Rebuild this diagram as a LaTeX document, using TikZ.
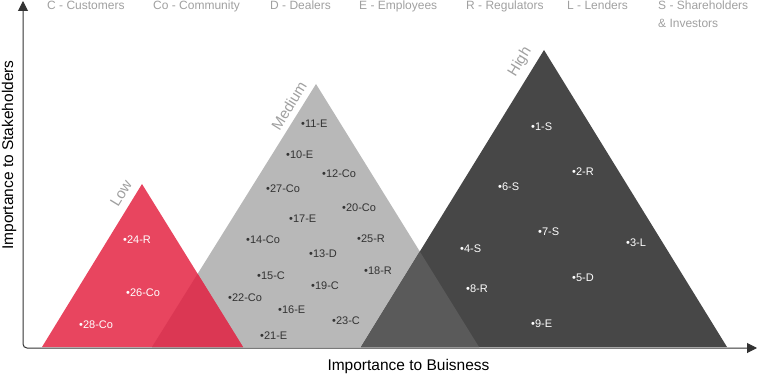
\documentclass[tikz,border=0pt]{standalone}
\usepackage{fontspec}
\setmainfont{Liberation Sans}
\usetikzlibrary{arrows.meta}

\definecolor{lowred}{HTML}{E8455F}
\definecolor{lowover}{HTML}{DB3753}
\definecolor{medgray}{HTML}{B8B8B8}
\definecolor{highdark}{HTML}{474747}
\definecolor{highover}{HTML}{5A5A5A}
\definecolor{legendgray}{HTML}{A0A0A0}
\definecolor{axisgray}{HTML}{333333}

\begin{document}
\begin{tikzpicture}[x=1pt, y=-1pt,
  item/.style={font=\fontsize{11}{13}\selectfont, anchor=west, inner sep=0pt},
  level/.style={font=\fontsize{15}{17}\selectfont, text=legendgray, rotate=58.5, inner sep=0pt},
  legend/.style={font=\fontsize{12}{18.5}\selectfont, text=legendgray, anchor=base west, inner sep=0pt, align=left},
  axislabel/.style={font=\fontsize{15.5}{18}\selectfont, text=black, inner sep=0pt}]

  \useasboundingbox (0,0) rectangle (758,374);

  % 三个三角形：Low（红）、Medium（灰）、High（深灰）
  \coordinate (L1) at (42,347);  \coordinate (L2) at (243,347); \coordinate (L3) at (142,184);
  \coordinate (M1) at (152,347); \coordinate (M2) at (479,347); \coordinate (M3) at (316,84);
  \coordinate (H1) at (361,347); \coordinate (H2) at (727,347); \coordinate (H3) at (544,50);

  \fill[medgray]  (M1) -- (M2) -- (M3) -- cycle;
  \fill[lowred]   (L1) -- (L2) -- (L3) -- cycle;
  \fill[highdark] (H1) -- (H2) -- (H3) -- cycle;

  % 重叠部分
  \begin{scope}
    \clip (M1) -- (M2) -- (M3) -- cycle;
    \fill[lowover]  (L1) -- (L2) -- (L3) -- cycle;
    \fill[highover] (H1) -- (H2) -- (H3) -- cycle;
  \end{scope}

  % 坐标轴
  \coordinate (O)    at (23,348);
  \coordinate (Ytop) at (23,1);
  \coordinate (Xend) at (757,348);
  \draw[axisgray, line width=1pt, rounded corners=4pt,
        {Triangle[length=10pt,width=10pt]}-{Triangle[length=10pt,width=10pt]}]
    (Ytop) -- (O) -- (Xend);

  \node[axislabel, rotate=90] (ylab) at (9,155) {Importance to Stakeholders};
  \node[axislabel, anchor=base] (xlab) at (408.5,370) {Importance to Buisness};

  % 图例
  \node[legend] (legC)  at (47,9.5)  {C - Customers};
  \node[legend] (legCo) at (153,9.5) {Co - Community};
  \node[legend] (legD)  at (270,9.5) {D - Dealers};
  \node[legend] (legE)  at (359,9.5) {E - Employees};
  \node[legend] (legR)  at (466,9.5) {R - Regulators};
  \node[legend] (legL)  at (567,9.5) {L - Lenders};
  \node[legend] (legS)  at (658,28)  {S - Shareholders\\\& Investors};

  % 等级标签
  \node[level] (low)  at (121,193) {Low};
  \node[level] (med)  at (289,106) {Medium};
  \node[level] (high) at (520,62)  {High};

  % Low
  \node[item, text=white] (s24) at (123,240) {•24-R};
  \node[item, text=white] (s26) at (126,293) {•26-Co};
  \node[item, text=white] (s28) at (79,325)  {•28-Co};

  % Medium
  \node[item, text=axisgray] (s11) at (301,124) {•11-E};
  \node[item, text=axisgray] (s10) at (286,155) {•10-E};
  \node[item, text=axisgray] (s12) at (322,174) {•12-Co};
  \node[item, text=axisgray] (s27) at (266,189) {•27-Co};
  \node[item, text=axisgray] (s20) at (342,208) {•20-Co};
  \node[item, text=axisgray] (s17) at (289,219) {•17-E};
  \node[item, text=axisgray] (s14) at (246,240) {•14-Co};
  \node[item, text=axisgray] (s25) at (357,239) {•25-R};
  \node[item, text=axisgray] (s13) at (309,254) {•13-D};
  \node[item, text=axisgray] (s15) at (257,276) {•15-C};
  \node[item, text=axisgray] (s18) at (364,271) {•18-R};
  \node[item, text=axisgray] (s19) at (311,286) {•19-C};
  \node[item, text=axisgray] (s22) at (228,298) {•22-Co};
  \node[item, text=axisgray] (s16) at (278,310) {•16-E};
  \node[item, text=axisgray] (s23) at (332,321) {•23-C};
  \node[item, text=axisgray] (s21) at (260,336) {•21-E};

  % High
  \node[item, text=white] (s1) at (531,127) {•1-S};
  \node[item, text=white] (s2) at (572,172) {•2-R};
  \node[item, text=white] (s6) at (498,187) {•6-S};
  \node[item, text=white] (s7) at (538,232) {•7-S};
  \node[item, text=white] (s3) at (626,243) {•3-L};
  \node[item, text=white] (s4) at (460,249) {•4-S};
  \node[item, text=white] (s5) at (572,278) {•5-D};
  \node[item, text=white] (s8) at (466,289) {•8-R};
  \node[item, text=white] (s9) at (531,324) {•9-E};
\end{tikzpicture}
\end{document}
